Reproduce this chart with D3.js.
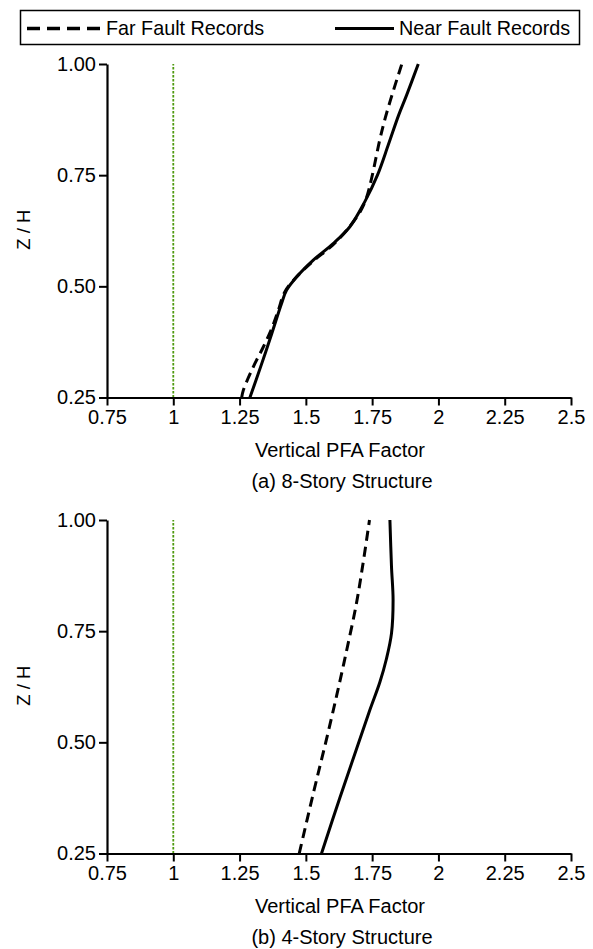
<!DOCTYPE html>
<html>
<head>
<meta charset="utf-8">
<script src="https://cdn.jsdelivr.net/npm/d3@7"></script>
<style>
  html, body { margin: 0; padding: 0; background: #fff; }
  svg { display: block; font-family: "Liberation Sans", Arial, sans-serif; }
</style>
</head>
<body>
<svg id="chart" width="593" height="949"></svg>
<script>
// ---- data ----
const xTicks = [0.75, 1, 1.25, 1.5, 1.75, 2, 2.25, 2.5];
const xTickLabels = ["0.75", "1", "1.25", "1.5", "1.75", "2", "2.25", "2.5"];
const yTicks = [0.25, 0.5, 0.75, 1.0];
const yTickLabels = ["0.25", "0.50", "0.75", "1.00"];
const seriesNames = ["Far Fault Records", "Near Fault Records"];
const panelCaptions = ["(a) 8-Story Structure", "(b) 4-Story Structure"];

// 8-story
const far8X  = [1.258, 1.264, 1.301, 1.339, 1.371, 1.396, 1.42, 1.46, 1.52, 1.60, 1.655, 1.705, 1.729, 1.748, 1.779, 1.80, 1.83, 1.862];
const far8Z  = [0.25, 0.266, 0.318, 0.363, 0.405, 0.446, 0.487, 0.518, 0.553, 0.592, 0.627, 0.668, 0.70, 0.743, 0.83, 0.88, 0.94, 1.0];
const near8X = [1.289, 1.330, 1.371, 1.408, 1.427, 1.465, 1.528, 1.603, 1.666, 1.722, 1.770, 1.812, 1.850, 1.88, 1.924];
const near8Z = [0.25, 0.32, 0.393, 0.461, 0.491, 0.521, 0.559, 0.596, 0.634, 0.69, 0.75, 0.82, 0.885, 0.93, 1.0];

// 4-story
const far4X  = [1.475, 1.53, 1.575, 1.618, 1.655, 1.69, 1.715, 1.74];
const far4Z  = [0.25, 0.39, 0.5, 0.61, 0.71, 0.81, 0.9, 1.0];
const near4X = [1.559, 1.628, 1.691, 1.741, 1.779, 1.804, 1.823, 1.829, 1.823, 1.817];
const near4Z = [0.25, 0.375, 0.485, 0.572, 0.635, 0.688, 0.745, 0.82, 0.895, 1.0];

const refX = [1, 1];
const refZ = [0.25, 1.0];

// ---- drawing ----
const svg = d3.select("#chart");
const FONT = 20;

// legend
const lg = svg.append("g");
lg.append("rect").attr("x", 20.5).attr("y", 10.5).attr("width", 559).attr("height", 34)
  .attr("fill", "none").attr("stroke", "#000").attr("stroke-width", 1.5);
lg.append("line").attr("x1", 27).attr("x2", 103).attr("y1", 28.5).attr("y2", 28.5)
  .attr("stroke", "#000").attr("stroke-width", 3.5).attr("stroke-dasharray", "13,7");
lg.append("text").attr("x", 106).attr("y", 35).attr("font-size", 19.75).text(seriesNames[0]);
lg.append("line").attr("x1", 335).attr("x2", 394).attr("y1", 28.5).attr("y2", 28.5)
  .attr("stroke", "#000").attr("stroke-width", 3);
lg.append("text").attr("x", 399).attr("y", 35).attr("font-size", 19.75).text(seriesNames[1]);

function panel(top, bottom, far, near, caption) {
  const x = d3.scaleLinear().domain([0.75, 2.5]).range([107, 571]);
  const y = d3.scaleLinear().domain([0.25, 1.0]).range([bottom, top]);
  const g = svg.append("g");

  // reference line at 1
  g.append("line")
    .attr("x1", x(refX[0])).attr("x2", x(refX[1]))
    .attr("y1", y(refZ[0])).attr("y2", y(refZ[1]))
    .attr("stroke", "#4f9a10").attr("stroke-width", 1.8).attr("stroke-dasharray", "2.5,1.5");

  const line = d3.line().x(d => x(d[0])).y(d => y(d[1])).curve(d3.curveCatmullRom.alpha(0.5));
  g.append("path").datum(far[0].map((v, i) => [v, far[1][i]]))
    .attr("d", line).attr("fill", "none").attr("stroke", "#000")
    .attr("stroke-width", 3).attr("stroke-dasharray", "10,6");
  g.append("path").datum(near[0].map((v, i) => [v, near[1][i]]))
    .attr("d", line).attr("fill", "none").attr("stroke", "#000")
    .attr("stroke-width", 3);

  // axes
  const xa = g.append("g").attr("transform", `translate(0,${bottom})`)
    .call(d3.axisBottom(x).tickValues(xTicks).tickFormat((d, i) => xTickLabels[i])
      .tickSize(8).tickSizeOuter(0).tickPadding(4));
  const ya = g.append("g").attr("transform", `translate(107,0)`)
    .call(d3.axisLeft(y).tickValues(yTicks).tickFormat((d, i) => yTickLabels[i])
      .tickSize(8).tickSizeOuter(0).tickPadding(3));
  [xa, ya].forEach(a => {
    a.select(".domain").attr("stroke", "#000").attr("stroke-width", 2.2);
    a.selectAll(".tick line").attr("stroke", "#000").attr("stroke-width", 2);
    a.selectAll(".tick text").attr("fill", "#000").attr("font-size", FONT)
      .attr("font-family", "Liberation Sans, Arial, sans-serif");
  });

  // axis titles
  g.append("text").attr("x", 340).attr("y", bottom + 59).attr("text-anchor", "middle")
    .attr("font-size", FONT).text("Vertical PFA Factor");
  g.append("text").attr("x", 342).attr("y", bottom + 90).attr("text-anchor", "middle")
    .attr("font-size", FONT).text(caption);
  g.append("text").attr("transform", `translate(30,${(top + bottom) / 2 - 1}) rotate(-90)`)
    .attr("text-anchor", "middle").attr("font-size", 18.5).text("Z / H");
}

panel(64, 397.5, [far8X, far8Z], [near8X, near8Z], panelCaptions[0]);
panel(520, 853.5, [far4X, far4Z], [near4X, near4Z], panelCaptions[1]);
</script>
</body>
</html>
